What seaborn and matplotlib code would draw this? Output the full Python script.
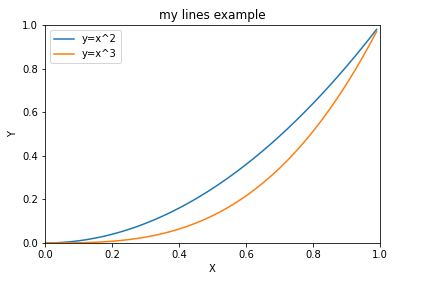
import matplotlib
matplotlib.use("Agg")
import matplotlib.pyplot as plt
import seaborn as sns
import pandas as pd

x_vals = [0.0, 0.025, 0.05, 0.075, 0.10, 0.125, 0.15, 0.175, 0.20, 0.225, 0.25,
          0.275, 0.30, 0.325, 0.35, 0.375, 0.40, 0.425, 0.45, 0.475, 0.50,
          0.525, 0.55, 0.575, 0.60, 0.625, 0.65, 0.675, 0.70, 0.725, 0.75,
          0.775, 0.80, 0.825, 0.85, 0.875, 0.90, 0.925, 0.95, 0.975, 0.99]
y_sq = [0.0, 0.0006, 0.0025, 0.0056, 0.01, 0.0156, 0.0225, 0.0306, 0.04, 0.0506, 0.0625,
        0.0756, 0.09, 0.1056, 0.1225, 0.1406, 0.16, 0.1806, 0.2025, 0.2256, 0.25,
        0.2756, 0.3025, 0.3306, 0.36, 0.3906, 0.4225, 0.4556, 0.49, 0.5256, 0.5625,
        0.6006, 0.64, 0.6806, 0.7225, 0.7656, 0.81, 0.8556, 0.9025, 0.9506, 0.9801]
y_cube = [0.0, 0.0000, 0.0001, 0.0004, 0.001, 0.0020, 0.0034, 0.0054, 0.008, 0.0114, 0.0156,
          0.0208, 0.027, 0.0343, 0.0429, 0.0527, 0.064, 0.0768, 0.0911, 0.1072, 0.125,
          0.1447, 0.1664, 0.1901, 0.216, 0.2441, 0.2746, 0.3075, 0.343, 0.3811, 0.4219,
          0.4655, 0.512, 0.5615, 0.6141, 0.6699, 0.729, 0.7915, 0.8574, 0.9269, 0.9703]
labels = ["y=x^2", "y=x^3"]

df = pd.DataFrame({
    "x": x_vals + x_vals,
    "y": y_sq + y_cube,
    "series": [labels[0]] * len(x_vals) + [labels[1]] * len(x_vals),
})

fig = plt.figure(figsize=(434 / 72, 284 / 72), dpi=72)
ax = fig.add_axes([45 / 434, 1 - 243 / 284, 335 / 434, 218 / 284])
sns.lineplot(data=df, x="x", y="y", hue="series", palette=["#1f77b4", "#ff7f0e"], ax=ax,
             linewidth=1.5)
ax.set_xlim(0, 1)
ax.set_ylim(0, 1)
ax.set_title("my lines example", fontsize=12)
ax.set_xlabel("X")
ax.set_ylabel("Y")
ax.legend(loc="upper left", title=None)
fig.savefig("out.png", dpi=72)
